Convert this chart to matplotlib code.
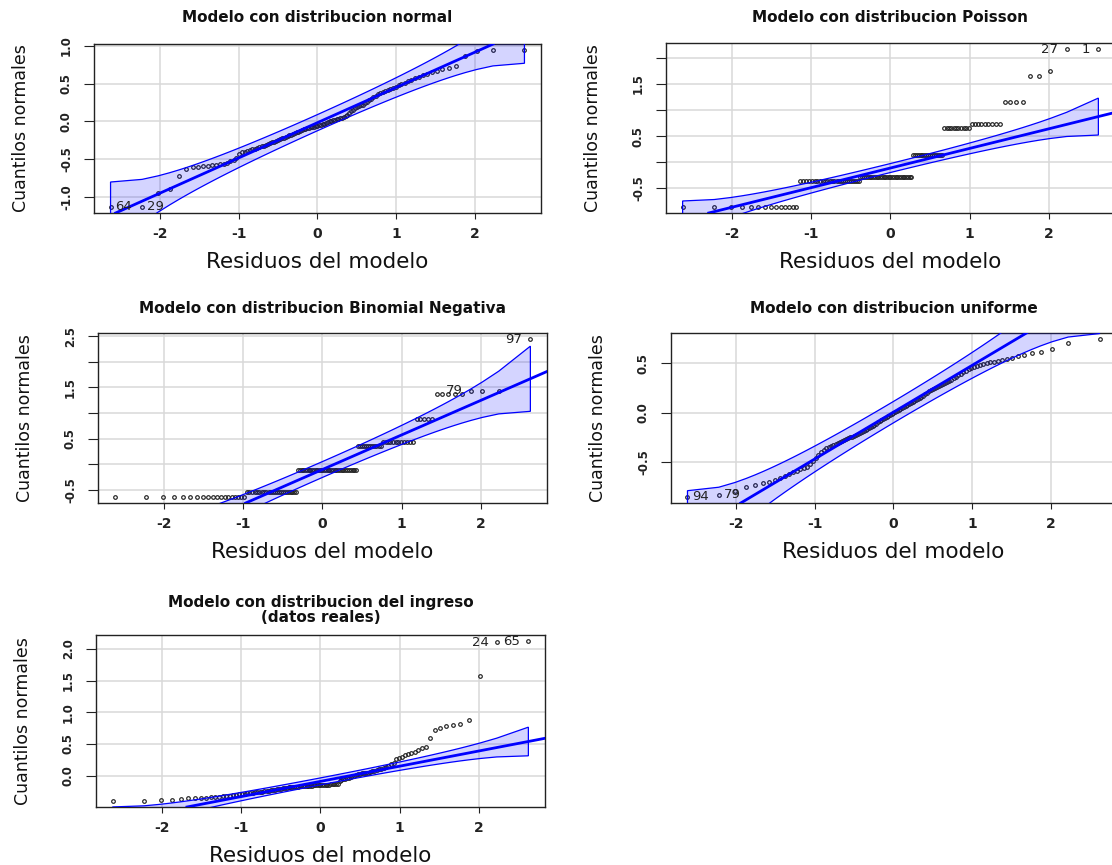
import matplotlib
matplotlib.use("Agg")
import matplotlib.pyplot as plt
from matplotlib.patches import Polygon
from statistics import NormalDist
import numpy as np

plt.rcParams['font.family'] = ['DejaVu Sans']
plt.rcParams['axes.unicode_minus'] = False

# ---------------- data ----------------
x_label = "Residuos del modelo"
y_label = "Cuantilos normales"
x_ticks = [-2, -1, 0, 1, 2]
x_tick_labels = ["-2", "-1", "0", "1", "2"]

# Panel 1: normal
title_normal = "Modelo con distribucion normal"
y_normal = [-1.13, -1.13, -0.95, -0.90, -0.72, -0.63, -0.61, -0.60, -0.59, -0.585,
            -0.58, -0.575, -0.57, -0.56, -0.55, -0.53, -0.51, -0.48, -0.43, -0.41,
            -0.40, -0.39, -0.38, -0.37, -0.36, -0.35, -0.34, -0.33, -0.32, -0.31,
            -0.30, -0.29, -0.28, -0.27, -0.26, -0.25, -0.24, -0.225, -0.215, -0.205,
            -0.195, -0.185, -0.175, -0.165, -0.155, -0.145, -0.135, -0.125, -0.115, -0.105,
            -0.095, -0.09, -0.085, -0.08, -0.075, -0.07, -0.065, -0.06, -0.05, -0.045,
            -0.04, -0.03, -0.02, -0.01, 0.0, 0.01, 0.015, 0.02, 0.03, 0.035,
            0.04, 0.05, 0.06, 0.07, 0.09, 0.11, 0.13, 0.15, 0.17, 0.19,
            0.20, 0.21, 0.22, 0.24, 0.26, 0.28, 0.30, 0.32, 0.34, 0.355,
            0.37, 0.385, 0.40, 0.415, 0.43, 0.445, 0.46, 0.475, 0.49, 0.51,
            0.53, 0.55, 0.57, 0.59, 0.61, 0.63, 0.65, 0.67, 0.69, 0.71,
            0.73, 0.86, 0.93, 0.94, 0.94]
ids_normal = {1: "64", 2: "29"}
line_normal = (-0.0175, 0.467)
yticks_normal = [-1.0, -0.5, 0.0, 0.5, 1.0]
yticklabels_normal = ["-1.0", "-0.5", "0.0", "0.5", "1.0"]

# Panel 2: Poisson (discrete residual levels and how many points sit on each)
title_poisson = "Modelo con distribucion Poisson"
poisson_levels = [-0.85, -0.36, -0.28, 0.14, 0.66, 0.74, 1.16, 1.64, 1.75, 2.16]
poisson_counts = [14, 26, 30, 16, 11, 9, 4, 2, 1, 2]
ids_poisson = {114: "27", 115: "1"}
line_poisson = (-0.11, 0.375)
yticks_poisson = [-0.5, 0.0, 0.5, 1.0, 1.5, 2.0]
yticklabels_poisson = ["-0.5", "", "0.5", "", "1.5", ""]

# Panel 3: Binomial negativa
title_nb = "Modelo con distribucion Binomial Negativa"
nb_levels = [-0.63, -0.54, -0.10, 0.36, 0.43, 0.89, 1.37, 1.44, 2.44]
nb_counts = [19, 24, 34, 12, 12, 5, 5, 3, 1]
ids_nb = {115: "97", 112: "79"}
line_nb = (-0.099, 0.6745)
yticks_nb = [-0.5, 0.0, 0.5, 1.0, 1.5, 2.0, 2.5]
yticklabels_nb = ["-0.5", "", "0.5", "", "1.5", "", "2.5"]

# Panel 4: uniforme
title_unif = "Modelo con distribucion uniforme"
y_unif = [-0.85, -0.83, -0.79, -0.75, -0.73, -0.715, -0.70, -0.68, -0.66, -0.645,
          -0.625, -0.60, -0.585, -0.57, -0.555, -0.545, -0.52, -0.49, -0.46, -0.43,
          -0.40, -0.375, -0.36, -0.35, -0.34, -0.33, -0.32, -0.31, -0.30, -0.29,
          -0.28, -0.27, -0.26, -0.25, -0.24, -0.23, -0.22, -0.21, -0.20, -0.19,
          -0.18, -0.17, -0.16, -0.15, -0.14, -0.13, -0.12, -0.11, -0.095, -0.085,
          -0.075, -0.06, -0.05, -0.04, -0.03, -0.02, -0.01, 0.0, 0.01, 0.02,
          0.03, 0.04, 0.05, 0.06, 0.07, 0.08, 0.09, 0.10, 0.11, 0.12,
          0.13, 0.14, 0.15, 0.16, 0.175, 0.19, 0.205, 0.22, 0.23, 0.24,
          0.25, 0.26, 0.27, 0.28, 0.29, 0.30, 0.31, 0.32, 0.335, 0.35,
          0.365, 0.38, 0.395, 0.41, 0.425, 0.44, 0.455, 0.465, 0.475, 0.48,
          0.49, 0.50, 0.51, 0.52, 0.53, 0.54, 0.55, 0.56, 0.575, 0.59,
          0.605, 0.62, 0.645, 0.71, 0.745]
ids_unif = {1: "94", 2: "79"}
line_unif = (0.007, 0.4734)
yticks_unif = [-0.5, 0.0, 0.5]
yticklabels_unif = ["-0.5", "0.0", "0.5"]

# Panel 5: ingreso (datos reales)
title_ing = "Modelo con distribucion del ingreso\n(datos reales)"
y_ing = [-0.394, -0.394, -0.378, -0.378, -0.375, -0.36, -0.355, -0.35, -0.345, -0.34,
         -0.335, -0.33, -0.325, -0.32, -0.315, -0.31, -0.30, -0.295, -0.29, -0.285,
         -0.28, -0.275, -0.27, -0.265, -0.26, -0.255, -0.25, -0.245, -0.24, -0.235,
         -0.23, -0.225, -0.22, -0.215, -0.21, -0.205, -0.20, -0.195, -0.19, -0.185,
         -0.18, -0.178, -0.176, -0.174, -0.172, -0.17, -0.168, -0.166, -0.164, -0.162,
         -0.16, -0.158, -0.156, -0.155, -0.154, -0.153, -0.152, -0.15, -0.148, -0.146,
         -0.144, -0.142, -0.14, -0.138, -0.135, -0.132, -0.129, -0.126, -0.08, -0.07,
         -0.06, -0.05, -0.04, -0.03, -0.02, -0.01, 0.0, 0.01, 0.02, 0.03,
         0.035, 0.04, 0.045, 0.05, 0.06, 0.07, 0.08, 0.09, 0.10, 0.11,
         0.12, 0.14, 0.16, 0.18, 0.20, 0.26, 0.28, 0.30, 0.32, 0.34,
         0.36, 0.38, 0.40, 0.43, 0.46, 0.59, 0.72, 0.75, 0.78, 0.80,
         0.82, 0.88, 1.57, 2.11, 2.12]
ids_ing = {114: "24", 115: "65"}
line_ing = (-0.09, 0.24)
yticks_ing = [0.0, 0.5, 1.0, 1.5, 2.0]
yticklabels_ing = ["0.0", "0.5", "1.0", "1.5", "2.0"]

# ---------------- figure ----------------
W, H = 1112, 865
fig = plt.figure(figsize=(W / 100, H / 100), dpi=100)
fig.patch.set_facecolor("white")
nd = NormalDist()
BLUE = "#0000ff"


def qq_panel(box, title, title_base, y, line, ids, yticks, yticklabels):
    L, R, T, B = box
    ax = fig.add_axes([L / W, 1 - B / H, (R - L) / W, (B - T) / H])
    y = np.sort(np.asarray(y, float))
    n = len(y)
    P = (np.arange(1, n + 1) - 0.5) / n
    z = np.array([nd.inv_cdf(p) for p in P])
    dens = np.array([nd.pdf(v) for v in z])
    a, b = line
    zc = nd.inv_cdf(0.975)
    se = (b / dens) * np.sqrt(P * (1 - P) / n)
    fit = a + b * z
    upper = fit + zc * se
    lower = fit - zc * se

    xr = z.max() - z.min()
    yr = y.max() - y.min()
    ax.set_xlim(z.min() - 0.04 * xr, z.max() + 0.04 * xr)
    ax.set_ylim(y.min() - 0.04 * yr, y.max() + 0.04 * yr)

    ax.set_xticks(x_ticks)
    ax.set_xticklabels(x_tick_labels, fontsize=10, fontweight="bold", color="#222222")
    ax.set_yticks(yticks)
    ax.set_yticklabels(yticklabels, fontsize=8.5, fontweight="bold", rotation=90,
                       va="center", color="#222222")
    ax.tick_params(axis="x", length=4.3, width=0.8, pad=5.5, color="#222222")
    ax.tick_params(axis="y", length=7.2, width=0.8, pad=8.0, color="#222222")
    ax.set_axisbelow(True)
    ax.grid(True, color="#d8d8d8", lw=1.1)
    for s in ax.spines.values():
        s.set_color("#222222")
        s.set_linewidth(1.0)

    ax.plot(z, y, "o", ms=2.6, mfc="none", mec="#222222", mew=0.85, zorder=3)
    ax.axline((0, a), slope=b, color=BLUE, lw=2.0, zorder=4)
    poly = Polygon(np.column_stack([np.r_[z, z[::-1]], np.r_[upper, lower[::-1]]]),
                   closed=True, facecolor=(0, 0, 1, 0.17), edgecolor=BLUE,
                   lw=0.9, zorder=5)
    ax.add_patch(poly)

    for idx, txt in ids.items():
        i = idx - 1
        if z[i] > 0:
            ax.annotate(txt, (z[i], y[i]), xytext=(-6, 0), textcoords="offset points",
                        ha="right", va="center", fontsize=9.5, color="#222222", zorder=6,
                        annotation_clip=False)
        else:
            ax.annotate(txt, (z[i], y[i]), xytext=(3.5, 0), textcoords="offset points",
                        ha="left", va="center", fontsize=9.5, color="#222222", zorder=6,
                        annotation_clip=False)

    cx = (L + R) / 2
    if "\n" in title:
        fig.text(cx / W, 1 - title_base / H, title, ha="center", va="center",
                 fontsize=11, fontweight="bold", linespacing=1.0, color="#111111")
    else:
        fig.text(cx / W, 1 - title_base / H, title, ha="center", va="baseline",
                 fontsize=11, fontweight="bold", color="#111111")
    fig.text(cx / W, 1 - (B + 55) / H, x_label, ha="center", va="baseline",
             fontsize=15.5, color="#111111")
    fig.text((L - 73) / W, 1 - ((T + B) / 2) / H, y_label, ha="center", va="center",
             rotation=90, fontsize=12.5, color="#111111")
    return ax


y_poisson = np.repeat(poisson_levels, poisson_counts)
y_nb = np.repeat(nb_levels, nb_counts)

qq_panel((94, 541, 44, 213), title_normal, 22, y_normal, line_normal, ids_normal,
         yticks_normal, yticklabels_normal)
qq_panel((666, 1115, 43, 213), title_poisson, 22, y_poisson, line_poisson, ids_poisson,
         yticks_poisson, yticklabels_poisson)
qq_panel((98, 547, 333, 503), title_nb, 313, y_nb, line_nb, ids_nb,
         yticks_nb, yticklabels_nb)
qq_panel((671, 1116, 333, 503), title_unif, 313, y_unif, line_unif, ids_unif,
         yticks_unif, yticklabels_unif)
qq_panel((96, 545, 635, 807), title_ing, 610, y_ing, line_ing, ids_ing,
         yticks_ing, yticklabels_ing)

fig.savefig("out.png", dpi=100)
